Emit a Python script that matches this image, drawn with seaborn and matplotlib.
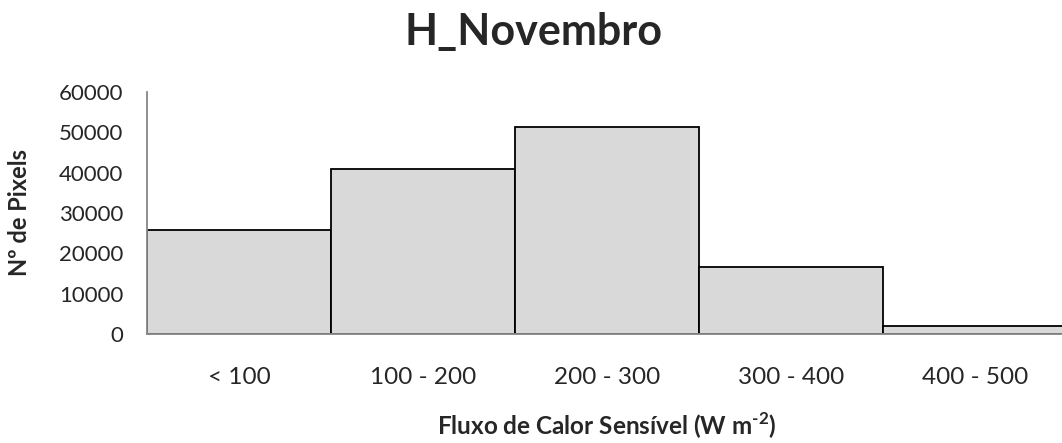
import matplotlib
matplotlib.use("Agg")
import matplotlib.pyplot as plt
import seaborn as sns
import pandas as pd

categories = ["< 100", "100 - 200", "200 - 300", "300 - 400", "400 - 500"]
pixel_counts = [25800, 41000, 51400, 16500, 2000]
y_ticks = [0, 10000, 20000, 30000, 40000, 50000, 60000]

sns.set_style("white")
plt.rcParams['font.family'] = ['Lato', 'DejaVu Sans']
plt.rcParams['mathtext.fontset'] = 'custom'
plt.rcParams['mathtext.rm'] = 'Lato:bold'
plt.rcParams['mathtext.bf'] = 'Lato:bold'

df = pd.DataFrame({"classe": categories, "pixels": pixel_counts})

fig = plt.figure(figsize=(10.62, 4.43), dpi=100)
ax = fig.add_axes([147 / 1062, 109 / 443, 920 / 1062, 242 / 443])

sns.barplot(data=df, x="classe", y="pixels", color="#d9d9d9", width=1.0,
            edgecolor="black", linewidth=1.3, saturation=1, ax=ax)

axis_gray = "#868686"
ax.set_ylim(0, 60000)
ax.set_xlim(-0.5, 4.5)
ax.set_yticks(y_ticks)
ax.set_yticklabels([str(t) for t in y_ticks])
ax.tick_params(axis='y', length=5, width=1, color=axis_gray, labelsize=16, pad=12)
ax.tick_params(axis='x', length=0, labelsize=17.5, pad=24)
for s in ["top", "right"]:
    ax.spines[s].set_visible(False)
ax.spines["left"].set_color(axis_gray)
ax.spines["bottom"].set_color(axis_gray)
ax.spines["left"].set_linewidth(1.3)
ax.spines["bottom"].set_linewidth(1.3)

ax.set_xlabel(r"Fluxo de Calor Sensível (W m$^{\text{-2}}$)", fontsize=17.5,
              fontweight="bold", va="center")
ax.xaxis.set_label_coords((607 - 147) / 920, -(426 - 334) / 242)
ax.set_ylabel("Nº de Pixels", fontsize=17, fontweight="bold", va="center")
ax.yaxis.set_label_coords(-(147 - 20) / 920, 0.5)
fig.suptitle("H_Novembro", fontsize=31, fontweight="bold", x=533 / 1062,
             y=1 - 32 / 443, va="center")

fig.savefig("out.png", dpi=100)
